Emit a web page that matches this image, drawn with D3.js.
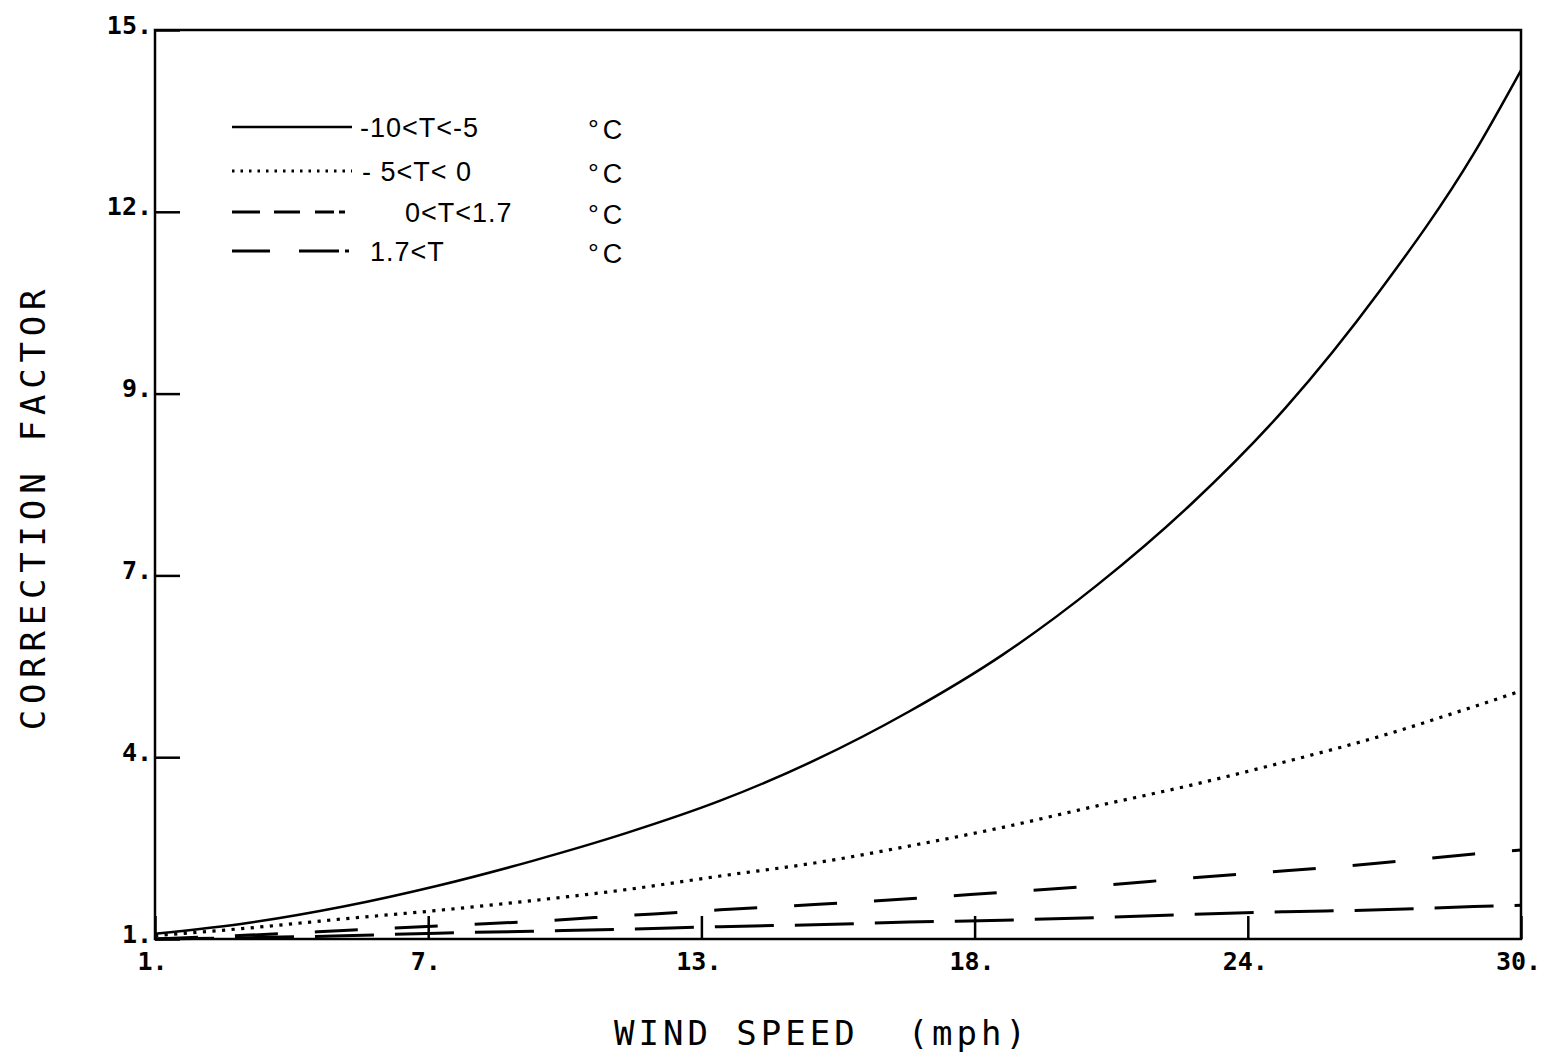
<!DOCTYPE html>
<html lang="en">

<head>
    <meta charset="UTF-8">
    <title>Correction factor vs wind speed</title>
    <script src="https://cdn.jsdelivr.net/npm/d3@7"></script>
    <style>
        html, body {
            margin: 0;
            padding: 0;
            background: #fff;
        }

        svg {
            display: block;
        }

        .tick text {
            font-family: "DejaVu Sans Mono", monospace;
            font-weight: bold;
            font-size: 25px;
            fill: #000;
        }

        .domain {
            display: none;
        }

        .tick line {
            stroke: #000;
            stroke-width: 2.5px;
        }

        .title {
            font-family: "DejaVu Sans Mono", monospace;
            font-size: 34px;
            fill: #000;
        }

        .legend text {
            font-family: "Liberation Sans", Arial, sans-serif;
            font-size: 27px;
            fill: #000;
        }

        .curve {
            fill: none;
            stroke: #000;
        }
    </style>
</head>

<body>
    <svg width="1541" height="1058"></svg>

    <script>
        // wind speed (mph) at which the curves were read
        const windSpeed = [1, 3, 5, 7, 9, 11, 13, 15, 17, 19, 21, 23, 25, 27, 29, 30];

        // correction factor per temperature band
        const cfBand1 = [1.08, 1.25, 1.50, 1.82, 2.20, 2.63, 3.13, 3.75, 4.50, 5.38, 6.45, 7.70, 9.18, 10.98, 13.10, 14.38];
        const cfBand2 = [1.05, 1.17, 1.31, 1.44, 1.59, 1.76, 1.97, 2.17, 2.43, 2.72, 3.05, 3.37, 3.73, 4.12, 4.58, 4.82];
        const cfBand3 = [1.00, 1.06, 1.13, 1.20, 1.27, 1.36, 1.45, 1.53, 1.62, 1.72, 1.82, 1.94, 2.05, 2.17, 2.31, 2.37];
        const cfBand4 = [1.00, 1.02, 1.05, 1.09, 1.12, 1.15, 1.19, 1.22, 1.26, 1.29, 1.33, 1.38, 1.42, 1.45, 1.50, 1.52];

        const bandLabels = ["-10<T<-5", "- 5<T< 0", "0<T<1.7", "1.7<T"];
        const unitLabel = "°C";

        const xTickValues = [1, 6.8, 12.6, 18.4, 24.2, 30];
        const xTickLabels = ["1.", "7.", "13.", "18.", "24.", "30."];
        const yTickValues = [1, 3.8, 6.6, 9.4, 12.2, 15];
        const yTickLabels = ["1.", "4.", "7.", "9.", "12.", "15."];

        const series = [
            { values: cfBand1, dash: null, width: 2.5 },
            { values: cfBand2, dash: "3.2 6.4", width: 3.2 },
            { values: cfBand3, dash: "43 37", width: 3 },
            { values: cfBand4, dash: "59 21", width: 3 }
        ];
        // legend sample dash patterns and text offsets
        const legendDash = [null, "2.5 6", "28 14 26 15 19 5 6 50", "38 29 40 6 5 50"];
        const legendTextX = [360, 362, 405, 370];

        const plot = { left: 155, right: 1521, top: 30, bottom: 939 };

        const svg = d3.select("svg");

        const x = d3.scaleLinear().domain([1, 30]).range([plot.left, plot.right]);
        const y = d3.scaleLinear().domain([1, 15]).range([plot.bottom, plot.top]);

        // axes, ticks pointing inward
        svg.append("g")
            .attr("transform", `translate(0,${plot.bottom})`)
            .call(d3.axisBottom(x)
                .tickValues(xTickValues)
                .tickFormat((d, i) => xTickLabels[i])
                .tickSize(-23)
                .tickPadding(13))
            .call(g => g.selectAll(".tick text").attr("dx", "-0.12em"));

        svg.append("g")
            .attr("transform", `translate(${plot.left},0)`)
            .call(d3.axisLeft(y)
                .tickValues(yTickValues)
                .tickFormat((d, i) => yTickLabels[i])
                .tickSize(-25)
                .tickPadding(3))
            .call(g => g.selectAll(".tick text").attr("dy", null).attr("y", 3));

        // frame
        svg.append("rect")
            .attr("x", plot.left)
            .attr("y", plot.top)
            .attr("width", plot.right - plot.left)
            .attr("height", plot.bottom - plot.top)
            .attr("fill", "none")
            .attr("stroke", "#000")
            .attr("stroke-width", 2.5);

        // curves
        const line = d3.line()
            .x((d, i) => x(windSpeed[i]))
            .y(d => y(d))
            .curve(d3.curveMonotoneX);

        svg.selectAll("path.curve")
            .data(series)
            .enter()
            .append("path")
            .attr("class", "curve")
            .attr("d", d => line(d.values))
            .attr("stroke-width", d => d.width)
            .attr("stroke-dasharray", d => d.dash);

        // legend
        const legend = svg.append("g").attr("class", "legend");
        const rowY = [127, 171, 212, 251];

        const rows = legend.selectAll("g.row")
            .data(bandLabels)
            .enter()
            .append("g")
            .attr("class", "row")
            .attr("transform", (d, i) => `translate(0,${rowY[i]})`);

        rows.append("line")
            .attr("x1", 232)
            .attr("x2", (d, i) => i === 3 ? 349 : 352)
            .attr("stroke", "#000")
            .attr("stroke-width", (d, i) => series[i].width)
            .attr("stroke-dasharray", (d, i) => legendDash[i]);

        rows.append("text")
            .attr("x", (d, i) => legendTextX[i])
            .attr("y", 10)
            .attr("xml:space", "preserve")
            .style("white-space", "pre")
            .attr("letter-spacing", 1)
            .text(d => d);

        rows.append("text")
            .attr("x", 588)
            .attr("y", 12)
            .attr("letter-spacing", 4)
            .text(unitLabel);

        // axis titles
        svg.append("text")
            .attr("class", "title")
            .attr("x", 822)
            .attr("y", 1045)
            .attr("text-anchor", "middle")
            .attr("letter-spacing", 4)
            .style("white-space", "pre")
            .text("WIND SPEED  (mph)");

        svg.append("text")
            .attr("class", "title")
            .attr("transform", "translate(45,507) rotate(-90)")
            .attr("text-anchor", "middle")
            .attr("letter-spacing", 5.8)
            .text("CORRECTION FACTOR");
    </script>

</body>

</html>
